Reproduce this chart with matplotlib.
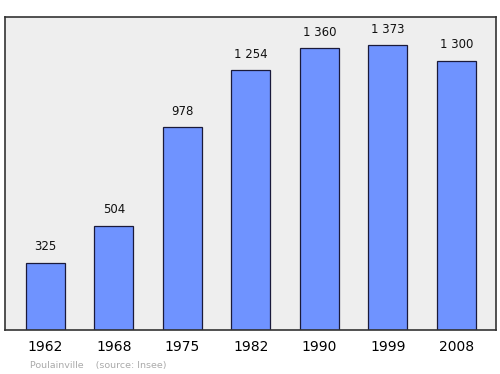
import matplotlib
matplotlib.use("Agg")
import matplotlib.pyplot as plt

years = ["1962", "1968", "1975", "1982", "1990", "1999", "2008"]
population = [325, 504, 978, 1254, 1360, 1373, 1300]
value_labels = ["325", "504", "978", "1 254", "1 360", "1 373", "1 300"]

fig = plt.figure(figsize=(5, 3.74), dpi=100)
ax = fig.add_axes([0.01, 0.1176, 0.982, 0.837])
ax.set_facecolor("#eeeeee")
x = range(len(years))
ax.bar(x, population, width=0.57, color="#6f93ff", edgecolor="#1a1a3a", linewidth=0.9, zorder=2)
for xi, v, lab in zip(x, population, value_labels):
    ax.text(xi, v + 45, lab, ha="center", va="bottom", fontsize=8.5, color="#111111")
ax.set_xlim(-0.59, 6.58)
ax.set_ylim(0, 1510)
ax.set_yticks([])
ax.set_xticks(list(x))
ax.set_xticklabels(years, fontsize=10)
ax.tick_params(axis="x", length=0, pad=7.5)
for s in ax.spines.values():
    s.set_color("#333333")
    s.set_linewidth(1.2)
fig.text(0.06, 0.01, "Poulainville    (source: Insee)", fontsize=6.8, color="#aaaaaa", ha="left", va="bottom")
fig.savefig("out.png", dpi=100)
